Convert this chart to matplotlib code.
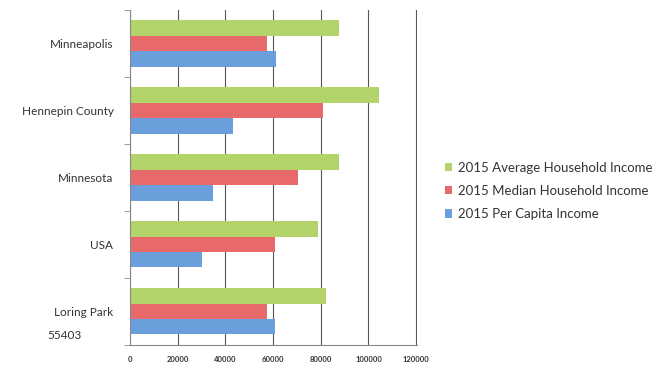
import numpy as np
import matplotlib.pyplot as plt

plt.rcParams['font.family'] = ['Lato', 'DejaVu Sans']

places = ["Minneapolis", "Hennepin County", "Minnesota", "USA", "Loring Park"]
avg_household = [87500, 104500, 87500, 79000, 82000]
median_household = [57500, 80800, 70400, 60800, 57500]
per_capita = [61200, 43300, 34600, 30000, 60800]
xticks = [0, 20000, 40000, 60000, 80000, 100000, 120000]

green = "#b3d46a"
red = "#e8696a"
blue = "#6b9fdb"

fig = plt.figure(figsize=(6.67, 3.7), dpi=100)
ax = fig.add_axes([0.195, 0.068, 0.43, 0.905])

y = np.arange(len(places))
h = 0.23
ax.barh(y - h, avg_household, height=h, color=green, label="2015 Average Household Income")
ax.barh(y, median_household, height=h, color=red, label="2015 Median Household Income")
ax.barh(y + h, per_capita, height=h, color=blue, label="2015 Per Capita Income")

ax.set_ylim(len(places) - 0.5, -0.5)
ax.set_xlim(0, 120300)
ax.set_yticks(y)
ax.set_yticklabels(places, fontsize=8.5, color="#333333")
ax.tick_params(axis="y", length=0, pad=12)
ax.set_yticks(np.arange(-0.5, len(places)), minor=True)
ax.tick_params(axis="y", which="minor", length=4, color="#888888")

ax.set_xticks(xticks)
ax.set_xticklabels([str(v) for v in xticks], fontsize=5.5, fontweight="bold", color="#333333")
ax.tick_params(axis="x", length=0, pad=8)
ax.grid(axis="x", color="#555555", linewidth=0.8)
ax.set_axisbelow(True)

for s in ["top", "right"]:
    ax.spines[s].set_visible(False)
ax.spines["left"].set_color("#888888")
ax.spines["bottom"].set_color("#888888")

# zip code under the last place name
ax.text(-0.29, 4.36, "55403", transform=ax.get_yaxis_transform(), fontsize=8.5,
        color="#333333", ha="left", va="center")

ax.legend(loc="center left", bbox_to_anchor=(1.055, 0.46), frameon=False,
          fontsize=9.5, handlelength=0.6, handleheight=0.6, handletextpad=0.4,
          labelspacing=0.85, labelcolor="#333333")

fig.savefig("out.png")
